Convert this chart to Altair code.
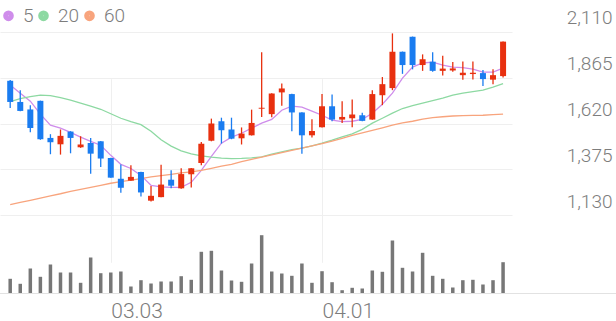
import altair as alt
import pandas as pd

# ---- data (50 trading days) ----
open_ = [1848, 1735, 1695, 1741, 1543, 1509, 1577, 1493, 1516, 1525,
         1436, 1325, 1315, 1361, 1208, 1227, 1320, 1274, 1349, 1409,
         1528, 1632, 1588, 1541, 1557, 1699, 1670, 1786, 1777, 1679,
         1557, 1600, 1712, 1641, 1648, 1664, 1641, 1771, 1809, 2003,
         2083, 1932, 1950, 1901, 1903, 1878, 1884, 1889, 1854, 1873]
high = [1852, 1798, 1718, 1742, 1563, 1588, 1579, 1552, 1543, 1527,
        1437, 1401, 1397, 1362, 1286, 1400, 1370, 1381, 1383, 1521,
        1646, 1651, 1651, 1599, 1694, 2000, 1782, 1834, 1779, 1680,
        1643, 1777, 1775, 1739, 1748, 1677, 1798, 1868, 2101, 2004,
        2084, 1989, 2000, 1982, 1948, 1951, 1951, 1905, 1909, 2058]
low = [1703, 1686, 1573, 1533, 1456, 1454, 1461, 1490, 1352, 1388,
       1330, 1250, 1314, 1231, 1204, 1226, 1275, 1272, 1279, 1397,
       1525, 1513, 1536, 1508, 1556, 1655, 1654, 1715, 1579, 1459,
       1545, 1598, 1632, 1623, 1600, 1632, 1640, 1718, 1798, 1885,
       1909, 1901, 1896, 1876, 1896, 1854, 1855, 1820, 1830, 1865]
close = [1735, 1687, 1596, 1536, 1520, 1554, 1543, 1508, 1459, 1433,
         1331, 1277, 1335, 1252, 1234, 1294, 1288, 1350, 1381, 1512,
         1620, 1584, 1539, 1566, 1623, 1704, 1780, 1807, 1679, 1557,
         1580, 1712, 1641, 1655, 1668, 1634, 1777, 1830, 2003, 1932,
         1932, 1963, 1901, 1913, 1914, 1891, 1891, 1857, 1878, 2057]
volume = [147000, 97000, 250000, 167000, 290000, 210000, 210000, 107000, 360000, 203000,
          210000, 220000, 70000, 133000, 100000, 120000, 120000, 173000, 137000, 417000,
          427000, 230000, 130000, 117000, 300000, 583000, 220000, 200000, 177000, 300000,
          107000, 223000, 113000, 33000, 57000, 50000, 230000, 217000, 530000, 257000,
          220000, 407000, 177000, 147000, 60000, 133000, 137000, 90000, 133000, 313000]
ma5 = [1825, 1782, 1739, 1670, 1611, 1595, 1573, 1547, 1525, 1504,
       1450, 1402, 1380, 1343, 1290, 1282, 1279, 1279, 1306, 1370,
       1445, 1515, 1547, 1568, 1595, 1622, 1642, 1691, 1713, 1707,
       1686, 1664, 1638, 1630, 1632, 1642, 1675, 1723, 1782, 1862,
       1921, 1943, 1948, 1932, 1921, 1918, 1910, 1894, 1894, 1916]
ma20 = [1737, 1753, 1763, 1771, 1769, 1758, 1745, 1729, 1713, 1696,
        1672, 1648, 1630, 1614, 1579, 1533, 1499, 1474, 1458, 1447,
        1440, 1435, 1433, 1434, 1437, 1442, 1456, 1469, 1480, 1488,
        1501, 1515, 1531, 1549, 1565, 1589, 1622, 1648, 1675, 1700,
        1715, 1729, 1742, 1755, 1771, 1782, 1790, 1798, 1814, 1833]
ma60 = [1187, 1199, 1210, 1222, 1234, 1245, 1258, 1268, 1279, 1290,
        1301, 1310, 1318, 1326, 1335, 1342, 1349, 1356, 1362, 1370,
        1381, 1392, 1402, 1416, 1429, 1441, 1453, 1465, 1477, 1489,
        1501, 1513, 1526, 1540, 1556, 1570, 1583, 1597, 1611, 1623,
        1632, 1643, 1651, 1656, 1660, 1662, 1663, 1664, 1667, 1670]

price_ticks = [1130, 1375, 1620, 1865, 2110]
date_tick_idx = [10, 31]
date_tick_labels = ["03.03", "04.01"]
ma_names = ["5", "20", "60"]
ma_colors = ["#cf8deb", "#8dd9a2", "#f8a47d"]

UP = "#e8300f"
DOWN = "#1a7cf0"
FONT = "Roboto"
TXT = "#7d7d7d"
GRID = "#efefef"

n = len(close)
df = pd.DataFrame({"i": range(n), "open": open_, "high": high, "low": low,
                   "close": close, "volume": volume})
ma_df = pd.concat([
    pd.DataFrame({"i": range(n), "ma": name, "value": vals})
    for name, vals in zip(ma_names, [ma5, ma20, ma60])
])

label_expr = " : ".join(
    [f"datum.value == {v} ? '{t}'" for v, t in zip(date_tick_idx, date_tick_labels)]
) + " : ''"

xscale = alt.Scale(domain=[-0.517, 49.39], nice=False, zero=False)
x_enc = alt.X("i:Q", scale=xscale, axis=alt.Axis(
    values=date_tick_idx, labelExpr=label_expr, grid=True, gridColor=GRID,
    domain=False, ticks=False, labelAlign="left", labelBaseline="top",
    labelPadding=6, labelFontSize=21, labelColor=TXT, labelFont=FONT,
    labelFontWeight=300, labelFlush=False, labelOverlap=False, title=None))

pscale = alt.Scale(domain=[1130, 2110], range=[215.3, 31.7], nice=False, zero=False)
y_axis = alt.Axis(values=price_ticks, labelExpr="format(datum.value, ',')",
                  grid=True, gridColor=GRID,
                  domain=False, ticks=False, orient="right", labelAlign="right",
                  labelPadding=100, labelBaseline="middle", labelOffset=-14,
                  labelFontSize=19, labelColor=TXT, labelFont=FONT,
                  labelFontWeight=300, title=None)

candle_color = alt.condition("datum.close >= datum.open", alt.value(UP), alt.value(DOWN))

lines = alt.Chart(ma_df).mark_line(strokeWidth=1.3).encode(
    x=x_enc,
    y=alt.Y("value:Q", scale=pscale, axis=y_axis),
    color=alt.Color("ma:N", scale=alt.Scale(domain=ma_names, range=ma_colors),
                    legend=alt.Legend(orient="none", legendX=-1, legendY=6,
                                      direction="horizontal", title=None,
                                      symbolType="circle", symbolSize=32,
                                      symbolStrokeWidth=5, labelFontSize=19,
                                      labelColor=TXT, labelFont=FONT,
                                      labelFontWeight=300,
                                      labelOffset=5, columnPadding=-6, padding=0)),
    detail="ma:N",
)

wicks = alt.Chart(df).mark_rule(strokeWidth=1.3).encode(
    x="i:Q",
    y=alt.Y("low:Q", scale=pscale, axis=y_axis),
    y2="high:Q",
    color=candle_color,
)
bodies = alt.Chart(df).mark_bar(size=6).encode(
    x="i:Q",
    y=alt.Y("open:Q", scale=pscale, axis=y_axis),
    y2="close:Q",
    color=candle_color,
)
price = alt.layer(lines, wicks, bodies)

vol = alt.Chart(df).mark_bar(size=3.5, color="#777777").encode(
    x="i:Q",
    y=alt.Y("volume:Q", scale=alt.Scale(domain=[0, 740000], range=[293.5, 219.5]),
            axis=None),
)
baseline = alt.Chart(df).mark_rule(color="#e2e2e2", strokeWidth=1).encode(
    x=alt.value(0), x2=alt.value(616), y=alt.value(293.5))

chart = alt.layer(price, vol, baseline).resolve_scale(y="independent").properties(
    width=512, height=294,
    padding={"left": 0, "top": 0, "right": 104, "bottom": 27},
    autosize=alt.AutoSizeParams(type="none"),
    background="white",
).configure_view(stroke=None)

chart.save("out.html", embed_options={"renderer": "svg", "actions": False})
